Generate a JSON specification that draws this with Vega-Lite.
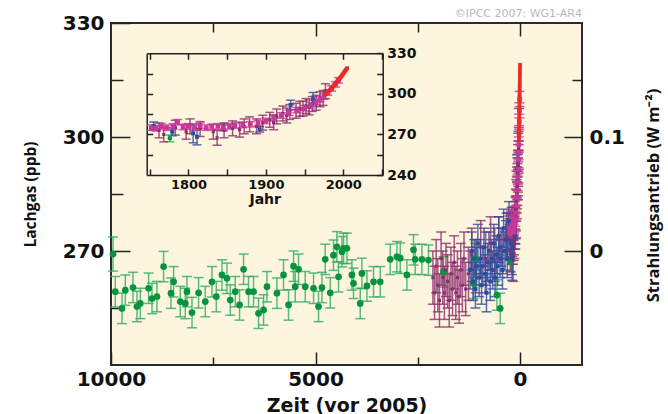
{
  "$schema": "https://vega.github.io/schema/vega-lite/v6.json",
  "width": 471,
  "height": 342,
  "autosize": "none",
  "padding": {"left": 111, "top": 23, "right": 86, "bottom": 49},
  "background": "white",
  "title": {"text": "©IPCC  2007: WG1-AR4", "anchor": "end", "frame": "group", "fontSize": 11, "font": "DejaVu Sans", "fontWeight": "normal", "color": "#b8b8b8", "offset": -15, "baseline": "alphabetic"},
  "config": {
    "view": {"fill": "#fdf5de", "stroke": "#2b2b2b", "strokeWidth": 2},
    "axis": {"labelFont": "DejaVu Sans", "labelFontWeight": "bold", "labelColor": "#111", "tickColor": "#222", "tickWidth": 1.5, "domain": false, "grid": false, "zindex": 1, "labelFlush": false, "labelOverlap": false, "titleColor": "#111"}
  },
  "datasets": {
    "d": [
      {"s":"g","bp":9951,"v":269.2,"e":4.5},{"s":"g","bp":9895,"v":259.3,"e":4},{"s":"g","bp":9731,"v":254.9,"e":4},{"s":"g","bp":9650,"v":259.7,"e":4},{"s":"g","bp":9462,"v":260.4,"e":4},{"s":"g","bp":9365,"v":255.4,"e":4},{"s":"g","bp":9284,"v":256.2,"e":4},{"s":"g","bp":9081,"v":260.2,"e":4},{"s":"g","bp":8998,"v":257.5,"e":4},{"s":"g","bp":8876,"v":258.0,"e":4},{"s":"g","bp":8714,"v":265.9,"e":4},{"s":"g","bp":8534,"v":258.9,"e":4},{"s":"g","bp":8470,"v":261.9,"e":4},{"s":"g","bp":8306,"v":256.7,"e":4},{"s":"g","bp":8184,"v":256.2,"e":4},{"s":"g","bp":8143,"v":259.3,"e":4},{"s":"g","bp":8020,"v":253.8,"e":4},{"s":"g","bp":7859,"v":259.0,"e":4},{"s":"g","bp":7695,"v":256.7,"e":4},{"s":"g","bp":7532,"v":261.9,"e":4},{"s":"g","bp":7426,"v":258.0,"e":4},{"s":"g","bp":7287,"v":263.7,"e":4},{"s":"g","bp":7165,"v":262.8,"e":4},{"s":"g","bp":7084,"v":257.1,"e":4},{"s":"g","bp":6962,"v":259.3,"e":4},{"s":"g","bp":6857,"v":255.8,"e":4},{"s":"g","bp":6759,"v":265.2,"e":4},{"s":"g","bp":6637,"v":259.3,"e":4},{"s":"g","bp":6515,"v":259.3,"e":4},{"s":"g","bp":6393,"v":253.6,"e":4},{"s":"g","bp":6270,"v":254.5,"e":4},{"s":"g","bp":6187,"v":260.6,"e":4},{"s":"g","bp":5943,"v":258.9,"e":4},{"s":"g","bp":5782,"v":263.7,"e":4},{"s":"g","bp":5659,"v":255.8,"e":4},{"s":"g","bp":5537,"v":266.0,"e":4},{"s":"g","bp":5496,"v":260.6,"e":4},{"s":"g","bp":5415,"v":265.2,"e":4},{"s":"g","bp":5251,"v":260.6,"e":4},{"s":"g","bp":5048,"v":260.2,"e":4},{"s":"g","bp":4926,"v":255.4,"e":4},{"s":"g","bp":4843,"v":260.4,"e":4},{"s":"g","bp":4763,"v":267.8,"e":4},{"s":"g","bp":4640,"v":259.0,"e":4},{"s":"g","bp":4560,"v":268.9,"e":4},{"s":"g","bp":4477,"v":271.1,"e":4},{"s":"g","bp":4437,"v":263.2,"e":4},{"s":"g","bp":4354,"v":269.8,"e":4},{"s":"g","bp":4315,"v":270.7,"e":4},{"s":"g","bp":4232,"v":270.7,"e":4},{"s":"g","bp":4110,"v":263.7,"e":4},{"s":"g","bp":4071,"v":261.5,"e":4},{"s":"g","bp":3907,"v":256.2,"e":4},{"s":"g","bp":3866,"v":264.1,"e":4},{"s":"g","bp":3743,"v":260.8,"e":4},{"s":"g","bp":3582,"v":261.9,"e":4},{"s":"g","bp":3418,"v":261.9,"e":4},{"s":"g","bp":3174,"v":267.8,"e":4},{"s":"g","bp":3010,"v":268.5,"e":4},{"s":"g","bp":2929,"v":268.1,"e":4},{"s":"g","bp":2766,"v":263.7,"e":4},{"s":"g","bp":2604,"v":270.3,"e":4},{"s":"g","bp":2563,"v":267.8,"e":4},{"s":"g","bp":2399,"v":267.8,"e":4},{"s":"g","bp":2238,"v":267.6,"e":4},{"s":"g","bp":1871,"v":264.5,"e":4},{"s":"g","bp":1138,"v":261.5,"e":4},{"s":"g","bp":1096,"v":268,"e":4},{"s":"g","bp":566,"v":258.4,"e":4},{"s":"g","bp":485,"v":254.9,"e":4},{"s":"g","bp":229,"v":267.1,"e":2.5},
      {"s":"m","bp":2130,"v":263,"e":7},{"s":"m","bp":2090,"v":259,"e":7},{"s":"m","bp":2050,"v":266,"e":7},{"s":"m","bp":2010,"v":261,"e":7},{"s":"m","bp":1970,"v":257,"e":7},{"s":"m","bp":1930,"v":268,"e":7},{"s":"m","bp":1890,"v":263,"e":7},{"s":"m","bp":1850,"v":259,"e":7},{"s":"m","bp":1810,"v":265,"e":7},{"s":"m","bp":1770,"v":262,"e":7},{"s":"m","bp":1730,"v":257,"e":7},{"s":"m","bp":1690,"v":264,"e":7},{"s":"m","bp":1650,"v":260,"e":7},{"s":"m","bp":1610,"v":267,"e":7},{"s":"m","bp":1570,"v":259,"e":7},{"s":"m","bp":1530,"v":263,"e":7},{"s":"m","bp":1490,"v":258,"e":7},{"s":"m","bp":1450,"v":265,"e":7},{"s":"m","bp":1410,"v":261,"e":7},{"s":"m","bp":1370,"v":268,"e":7},{"s":"m","bp":1330,"v":260,"e":7},{"s":"m","bp":1260,"v":264,"e":7},{"s":"m","bp":1180,"v":269,"e":7},{"s":"m","bp":1080,"v":266,"e":7},{"s":"m","bp":960,"v":271,"e":7},{"s":"m","bp":840,"v":268,"e":7},{"s":"m","bp":720,"v":272,"e":7},{"s":"m","bp":620,"v":269,"e":7},{"s":"m","bp":520,"v":273,"e":6},{"s":"m","bp":420,"v":270,"e":6},{"s":"m","bp":330,"v":274,"e":6},
      {"s":"m","bp":243,"v":273,"e":5.5},{"s":"m","bp":237,"v":270,"e":5.5},{"s":"m","bp":222,"v":275,"e":5.5},{"s":"m","bp":208,"v":272,"e":5.5},{"s":"m","bp":203,"v":276,"e":5.5},{"s":"m","bp":190,"v":274,"e":5.5},{"s":"m","bp":173,"v":272,"e":5.5},{"s":"m","bp":168,"v":267.5,"e":5.5},{"s":"m","bp":159,"v":273,"e":5.5},{"s":"m","bp":148,"v":274.5,"e":5.5},{"s":"m","bp":139,"v":273.5,"e":5.5},{"s":"m","bp":133,"v":276,"e":5.5},{"s":"m","bp":126,"v":277.5,"e":5.5},{"s":"m","bp":117,"v":276,"e":5.5},{"s":"m","bp":109,"v":278.7,"e":5.5},{"s":"m","bp":100,"v":280.8,"e":5.5},{"s":"m","bp":95,"v":279,"e":5.5},{"s":"m","bp":91,"v":283.3,"e":5.5},{"s":"m","bp":83,"v":285.5,"e":5.5},{"s":"m","bp":78,"v":284,"e":5.5},{"s":"m","bp":74,"v":286.6,"e":5.5},{"s":"m","bp":66,"v":287.5,"e":5.5},{"s":"m","bp":61,"v":289,"e":5.5},{"s":"m","bp":57,"v":289,"e":5.5},{"s":"m","bp":53,"v":291,"e":5.5},{"s":"m","bp":49,"v":290,"e":5.5},{"s":"m","bp":45,"v":292.5,"e":5.5},{"s":"m","bp":40,"v":293.4,"e":5.5},{"s":"m","bp":35,"v":296,"e":5.5},{"s":"m","bp":31,"v":297,"e":5.5},{"s":"m","bp":28,"v":302,"e":5.5},
      {"s":"b","bp":1220,"v":265,"e":5},{"s":"b","bp":1180,"v":270,"e":5},{"s":"b","bp":1150,"v":262,"e":5},{"s":"b","bp":1120,"v":268,"e":5},{"s":"b","bp":1090,"v":260,"e":5},{"s":"b","bp":1060,"v":266,"e":5},{"s":"b","bp":1030,"v":272,"e":5},{"s":"b","bp":1000,"v":263,"e":5},{"s":"b","bp":970,"v":268,"e":5},{"s":"b","bp":940,"v":261,"e":5},{"s":"b","bp":910,"v":266,"e":5},{"s":"b","bp":880,"v":271,"e":5},{"s":"b","bp":850,"v":264,"e":5},{"s":"b","bp":820,"v":259,"e":5},{"s":"b","bp":790,"v":267,"e":5},{"s":"b","bp":760,"v":270,"e":5},{"s":"b","bp":730,"v":262,"e":5},{"s":"b","bp":700,"v":268,"e":5},{"s":"b","bp":670,"v":265,"e":5},{"s":"b","bp":640,"v":272,"e":5},{"s":"b","bp":610,"v":263,"e":5},{"s":"b","bp":580,"v":269,"e":5},{"s":"b","bp":550,"v":266,"e":5},{"s":"b","bp":520,"v":274,"e":5},{"s":"b","bp":490,"v":268,"e":5},{"s":"b","bp":460,"v":271,"e":5},{"s":"b","bp":430,"v":265,"e":5},{"s":"b","bp":400,"v":276,"e":5},{"s":"b","bp":370,"v":270,"e":5},{"s":"b","bp":340,"v":273,"e":5},{"s":"b","bp":310,"v":268,"e":5},{"s":"b","bp":285,"v":275,"e":5},{"s":"b","bp":270,"v":278,"e":5},
      {"s":"b","bp":250,"v":276.2,"e":3},{"s":"b","bp":226,"v":272.0,"e":3},{"s":"b","bp":199,"v":270.8,"e":7},{"s":"b","bp":194,"v":268.3,"e":6},{"s":"b","bp":160,"v":275.3,"e":2.5},{"s":"b","bp":113,"v":273.8,"e":2},{"s":"b","bp":73,"v":291.8,"e":3.5},{"s":"b","bp":44,"v":296.0,"e":5},
      {"s":"p","bp":253,"v":275,"e":2},{"s":"p","bp":247,"v":274.5,"e":2},{"s":"p","bp":240,"v":276,"e":2},{"s":"p","bp":233,"v":275,"e":2},{"s":"p","bp":225,"v":276,"e":2},{"s":"p","bp":219,"v":279,"e":2},{"s":"p","bp":212,"v":275.5,"e":2},{"s":"p","bp":205,"v":276,"e":2},{"s":"p","bp":197,"v":275,"e":2},{"s":"p","bp":190,"v":276.5,"e":2},{"s":"p","bp":182,"v":275,"e":2},{"s":"p","bp":175,"v":275.5,"e":2},{"s":"p","bp":167,"v":276,"e":2},{"s":"p","bp":160,"v":275,"e":2},{"s":"p","bp":152,"v":276,"e":2},{"s":"p","bp":145,"v":276.5,"e":2},{"s":"p","bp":135,"v":277,"e":2},{"s":"p","bp":125,"v":277.5,"e":2},{"s":"p","bp":115,"v":278.5,"e":2},{"s":"p","bp":105,"v":280,"e":2},{"s":"p","bp":95,"v":282,"e":2},{"s":"p","bp":85,"v":284,"e":2},{"s":"p","bp":75,"v":286,"e":2},{"s":"p","bp":65,"v":288,"e":2},{"s":"p","bp":55,"v":289.5,"e":2},{"s":"p","bp":47,"v":291.5,"e":2},{"s":"p","bp":40,"v":294,"e":2},{"s":"p","bp":35,"v":296,"e":2},{"s":"p","bp":30,"v":298,"e":2},{"s":"p","bp":25,"v":301,"e":2},{"s":"p","bp":20,"v":304,"e":2},{"s":"p","bp":15,"v":307,"e":2},{"s":"p","bp":11,"v":310,"e":2},
      {"s":"r","bp":28,"v":299.5,"e":0.5},{"s":"r","bp":27,"v":300,"e":0.5},{"s":"r","bp":26,"v":300.6,"e":0.5},{"s":"r","bp":25,"v":301.2,"e":0.5},{"s":"r","bp":24,"v":301.8,"e":0.5},{"s":"r","bp":23,"v":302.4,"e":0.5},{"s":"r","bp":22,"v":303,"e":0.5},{"s":"r","bp":21,"v":303.6,"e":0.5},{"s":"r","bp":20,"v":304.2,"e":0.5},{"s":"r","bp":19,"v":304.9,"e":0.5},{"s":"r","bp":18,"v":305.6,"e":0.5},{"s":"r","bp":17,"v":306.3,"e":0.5},{"s":"r","bp":16,"v":307,"e":0.5},{"s":"r","bp":15,"v":307.7,"e":0.5},{"s":"r","bp":14,"v":308.4,"e":0.5},{"s":"r","bp":13,"v":309.1,"e":0.5},{"s":"r","bp":12,"v":309.8,"e":0.5},{"s":"r","bp":11,"v":310.5,"e":0.5},{"s":"r","bp":10,"v":311.2,"e":0.5},{"s":"r","bp":9,"v":311.9,"e":0.5},{"s":"r","bp":8,"v":312.6,"e":0.5},{"s":"r","bp":7,"v":313.4,"e":0.5},{"s":"r","bp":6,"v":314.2,"e":0.5},{"s":"r","bp":5,"v":315,"e":0.5},{"s":"r","bp":4,"v":315.8,"e":0.5},{"s":"r","bp":3,"v":316.6,"e":0.5},{"s":"r","bp":2,"v":317.4,"e":0.5},{"s":"r","bp":1,"v":318.2,"e":0.5},{"s":"r","bp":0,"v":319,"e":0.5}
    ]
  },
  "resolve": {"scale": {"x": "independent", "y": "independent"}, "axis": {"x": "independent", "y": "independent"}},
  "layer": [
    {
      "data": {"name": "d"},
      "encoding": {
        "x": {"field": "bp", "type": "quantitative", "scale": {"domain": [-1515, 10000], "reverse": true, "nice": false, "zero": false},
          "axis": {"orient": "bottom", "values": [10000, 7500, 5000, 2500, 0], "format": "d", "labelExpr": "datum.value % 5000 === 0 ? datum.label : ''", "tickSize": {"condition": {"test": "datum.value % 5000 === 0", "value": -13}, "value": -8}, "labelFontSize": 20, "labelPadding": 17, "title": "Zeit (vor 2005)", "titleFont": "DejaVu Sans", "titleFontWeight": "bold", "titleFontSize": 19, "titleY": 46, "titleBaseline": "alphabetic"}},
        "y": {"field": "v", "type": "quantitative", "scale": {"domain": [240, 330], "nice": false, "zero": false},
          "axis": {"orient": "left", "values": [255, 270, 285, 300, 315, 330], "labelExpr": "datum.value % 30 === 0 ? datum.label : ''", "tickSize": {"condition": {"test": "datum.value % 30 === 0", "value": -19}, "value": -12}, "labelFontSize": 20, "labelPadding": 26, "title": "Lachgas (ppb)", "titleFont": "Open Sans", "titleFontWeight": "bold", "titleFontSize": 15.5, "titleX": -81, "titleY": 171, "titleAngle": 270, "titleBaseline": "middle", "titleAlign": "center"}}
      },
      "layer": [
        {"data": {"values": [{}]}, "mark": {"type": "rect", "fill": "#e7e8ec", "stroke": "#8d8d8d", "strokeDash": [1.5, 1.5], "strokeWidth": 1},
          "encoding": {"x": {"datum": 566, "type": "quantitative"}, "x2": {"datum": -289}, "y": {"datum": 253.6, "type": "quantitative"}, "y2": {"datum": 320.3}}},
        {"data": {"values": [{}]}, "mark": {"type": "rule", "color": "#9b9b9b", "strokeDash": [3, 2], "strokeWidth": 1},
          "encoding": {"x": {"datum": 3352, "type": "quantitative"}, "y": {"datum": 322.0, "type": "quantitative"}, "x2": {"datum": 566}, "y2": {"datum": 320.3}}},
        {"data": {"values": [{}]}, "mark": {"type": "rule", "color": "#9b9b9b", "strokeDash": [3, 2], "strokeWidth": 1},
          "encoding": {"x": {"datum": 9120, "type": "quantitative"}, "y": {"datum": 290.0, "type": "quantitative"}, "x2": {"datum": 566}, "y2": {"datum": 253.6}}},
        {"transform": [{"filter": "datum.s !== 'r'"}], "mark": {"type": "errorbar", "ticks": {"size": 10}, "thickness": 1.5, "opacity": 0.8},
          "encoding": {"yError": {"field": "e"}, "color": {"field": "s", "type": "nominal", "scale": {"domain": ["g", "m", "b", "p", "r"], "range": ["#2fac62", "#8c2e6e", "#2d4c9e", "#c8389a", "#ea2b2b"]}, "legend": null}}},
        {"transform": [{"filter": "datum.s === 'g'"}], "mark": {"type": "circle", "size": 45, "color": "#06933e", "opacity": 1}},
        {"transform": [{"filter": "datum.s === 'm' || datum.s === 'b' || datum.s === 'p'"}], "mark": {"type": "square", "opacity": 1},
          "encoding": {"color": {"field": "s", "type": "nominal", "legend": null}, "size": {"field": "s", "type": "nominal", "scale": {"domain": ["m", "b", "p"], "range": [10, 22, 10]}, "legend": null}}},
        {"transform": [{"filter": "datum.s === 'r'"}], "mark": {"type": "square", "size": 14, "color": "#ea2b2b", "opacity": 1}}
      ]
    },
    {
      "data": {"name": "d"},
      "mark": {"type": "point", "opacity": 0},
      "encoding": {
        "x": {"field": "bp", "type": "quantitative", "scale": {"domain": [-1515, 10000], "reverse": true, "nice": false, "zero": false},
          "axis": {"orient": "top", "values": [7500, 5000, 2500, 0], "labels": false, "tickSize": {"condition": {"test": "datum.value % 5000 === 0", "value": -13}, "value": -9}, "title": null}},
        "y": {"field": "v", "type": "quantitative", "scale": {"domain": [240, 330], "nice": false, "zero": false},
          "axis": {"orient": "right", "values": [270, 285, 300, 315], "labelExpr": "datum.value === 270 ? '0' : datum.value === 300 ? '0.1' : ''", "tickSize": {"condition": {"test": "datum.value % 30 === 0", "value": -18}, "value": -10}, "labelFontSize": 20, "labelPadding": 25, "title": "Strahlungsantrieb (W m⁻²)", "titleFont": "Open Sans", "titleFontWeight": "bold", "titleFontSize": 16.5, "titleX": 71, "titleY": 172, "titleAngle": 270, "titleBaseline": "middle", "titleAlign": "center"}}
      }
    },
    {
      "data": {"name": "d"},
      "encoding": {
        "x": {"field": "bp", "type": "quantitative", "scale": {"domain": [-46, 259], "reverse": true, "range": [35.7, 271.7], "nice": false, "zero": false},
          "axis": {"orient": "bottom", "offset": -190, "values": [255, 205, 155, 105, 55, 5, -45], "labelExpr": "(2005 - datum.value) % 100 === 0 ? '' + (2005 - datum.value) : ''", "tickSize": -6, "labelFontSize": 13, "labelPadding": 9, "domain": true, "domainColor": "#222", "domainWidth": 1.5, "title": "Jahr", "titleFont": "DejaVu Sans", "titleFontWeight": "bold", "titleFontSize": 14, "titleY": 28, "titleBaseline": "alphabetic"}},
        "y": {"field": "v", "type": "quantitative", "scale": {"domain": [240, 330], "range": [152, 30.3], "nice": false, "zero": false},
          "axis": {"orient": "right", "offset": -199.3, "values": [240, 255, 270, 285, 300, 315, 330], "labelExpr": "datum.value % 30 === 0 ? datum.label : ''", "tickSize": -6, "labelFontSize": 14, "labelPadding": 10, "domain": true, "domainColor": "#222", "domainWidth": 1.5, "title": null}}
      },
      "layer": [
        {"data": {"values": [{}]}, "mark": {"type": "rect", "fill": "#e8e9ed"},
          "encoding": {"x": {"datum": -46, "type": "quantitative"}, "x2": {"datum": 259}, "y": {"datum": 240, "type": "quantitative"}, "y2": {"datum": 330}}},
        {"transform": [{"filter": "datum.bp <= 262 && datum.s !== 'r'"}], "mark": {"type": "errorbar", "ticks": {"size": 9}, "thickness": 1.5, "opacity": 0.8},
          "encoding": {"yError": {"field": "e"}, "color": {"field": "s", "type": "nominal", "legend": null}}},
        {"transform": [{"filter": "datum.bp <= 262 && datum.s === 'g'"}], "mark": {"type": "circle", "size": 20, "color": "#06933e", "opacity": 1}},
        {"transform": [{"filter": "datum.bp <= 262 && (datum.s === 'm' || datum.s === 'b' || datum.s === 'p')"}], "mark": {"type": "square", "opacity": 1},
          "encoding": {"color": {"field": "s", "type": "nominal", "legend": null}, "size": {"field": "s", "type": "nominal", "legend": null}}},
        {"transform": [{"filter": "datum.s === 'r'"}], "mark": {"type": "square", "size": 14, "color": "#ea2b2b", "opacity": 1}}
      ]
    },
    {
      "data": {"name": "d"},
      "transform": [{"filter": "datum.s === 'r'"}],
      "mark": {"type": "point", "opacity": 0},
      "encoding": {
        "x": {"field": "bp", "type": "quantitative", "scale": {"domain": [-46, 259], "reverse": true, "range": [35.7, 271.7], "nice": false, "zero": false},
          "axis": {"orient": "top", "offset": -30.3, "values": [255, 205, 155, 105, 55, 5, -45], "labels": false, "tickSize": -6, "domain": true, "domainColor": "#222", "domainWidth": 1.5, "title": null}},
        "y": {"field": "v", "type": "quantitative", "scale": {"domain": [240, 330], "range": [152, 30.3], "nice": false, "zero": false},
          "axis": {"orient": "left", "offset": -35.7, "values": [255, 270, 285, 300, 315], "labels": false, "tickSize": -6, "domain": true, "domainColor": "#222", "domainWidth": 1.5, "title": null}}
      }
    }
  ]
}
